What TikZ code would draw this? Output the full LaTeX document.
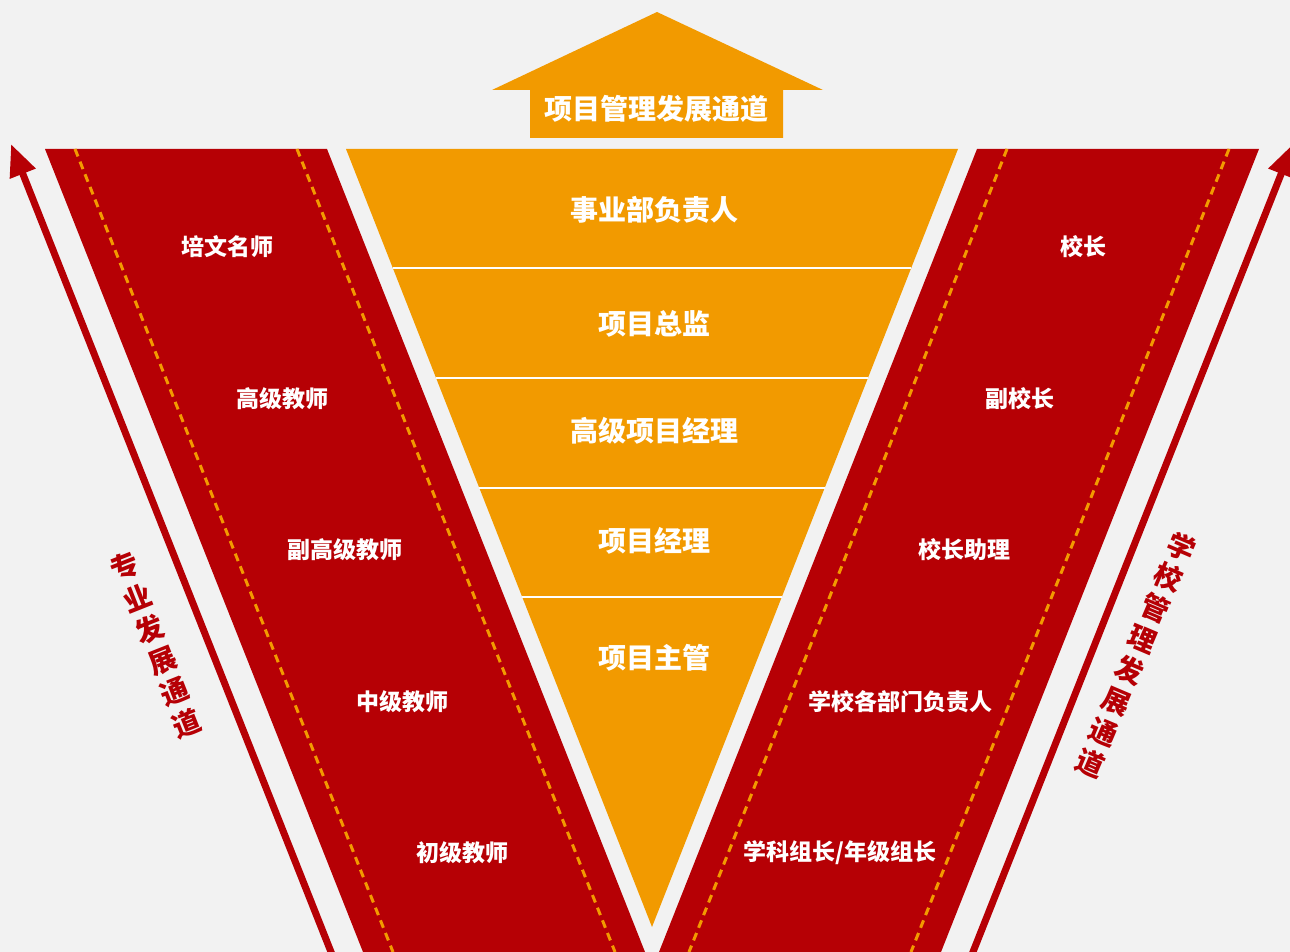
\documentclass[tikz,border=0pt]{standalone}
\usepackage{fontspec}
\setmainfont{Noto Sans CJK SC}
\usetikzlibrary{arrows.meta,positioning}
\definecolor{bandred}{RGB}{182,0,5}
\definecolor{pathorange}{RGB}{242,154,0}
\definecolor{paper}{RGB}{242,242,242}

\begin{document}
\begin{tikzpicture}[x=0.5pt,y=-0.5pt]
		\tikzstyle{Band}	= [fill=bandred]
		\tikzstyle{Funnel}	= [fill=pathorange]
		\tikzstyle{Seam}	= [pathorange, line width=1.5pt, dash pattern=on 4pt off 2.8pt]
		\tikzstyle{Split}	= [white, line width=1pt]
		\tikzstyle{Level}	= [text=white, font=\bfseries\fontsize{11.5}{12}\selectfont]
		\tikzstyle{Rank}	= [text=white, font=\bfseries\fontsize{14}{15}\selectfont]
		\tikzstyle{Side}	= [text=bandred, align=center, inner sep=0pt, font=\bfseries\fontsize{14}{16.8}\selectfont]
		\tikzstyle{Channel}	= [bandred, line width=3.5pt, -{Triangle[length=16pt,width=13pt]}]

		\fill[paper] (0,0) rectangle (1290,952);
		\useasboundingbox (0,0) rectangle (1290,952);

		% top arrow
		\fill[Funnel] (492,90) -- (657,12) -- (823,90) -- (783,90) -- (783,138) -- (530,138) -- (530,90) -- cycle;
		\node (title) at (656,109) [Rank] {项目管理发展通道};

		% red bands
		\fill[Band] (45,149) -- (327,149) -- (645,952) -- (363,952) -- cycle;
		\fill[Band] (977,149) -- (1259,149) -- (941,952) -- (659,952) -- cycle;
		\draw[Seam] (75,149) -- (393,952);
		\draw[Seam] (297,149) -- (615,952);
		\draw[Seam] (1007,149) -- (689,952);
		\draw[Seam] (1229,149) -- (911,952);

		% orange funnel
		\fill[Funnel] (346,149) -- (958,149) -- (652,927) -- cycle;
		\draw[Split] (393,268) -- (911,268);
		\draw[Split] (436,378) -- (868,378);
		\draw[Split] (479,488) -- (825,488);
		\draw[Split] (522,597) -- (782,597);

		\node (p1) at (654,210) [Rank] {事业部负责人};
		\node (p2) at (654,324) [Rank] {项目总监};
		\node (p3) at (654,431) [Rank] {高级项目经理};
		\node (p4) at (654,541) [Rank] {项目经理};
		\node (p5) at (654,658) [Rank] {项目主管};

		\node (t1) at (227,247) [Level] {培文名师};
		\node (t2) at (282,399) [Level] {高级教师};
		\node (t3) at (345,550) [Level] {副高级教师};
		\node (t4) at (402,702) [Level] {中级教师};
		\node (t5) at (462,853) [Level] {初级教师};

		\node (s1) at (1083,247) [Level] {校长};
		\node (s2) at (1020,399) [Level] {副校长};
		\node (s3) at (964,550) [Level] {校长助理};
		\node (s4) at (900,702) [Level] {学校各部门负责人};
		\node (s5) at (840,853) [Level] {学科组长/年级组长};

		% side channels
		\coordinate (lfoot) at (335,962);
		\coordinate (ltip) at (11,144);
		\coordinate (rfoot) at (969,962);
		\coordinate (rtip) at (1293,144);
		\draw[Channel] (lfoot) -- (ltip);
		\draw[Channel] (rfoot) -- (rtip);

		\node (teachpath) at (156,645) [Side, rotate=21.6] {专\\业\\发\\展\\通\\道};
		\node (schoolpath) at (1136,655) [Side, rotate=-23] {学\\校\\管\\理\\发\\展\\通\\道};
	\end{tikzpicture}
\end{document}
